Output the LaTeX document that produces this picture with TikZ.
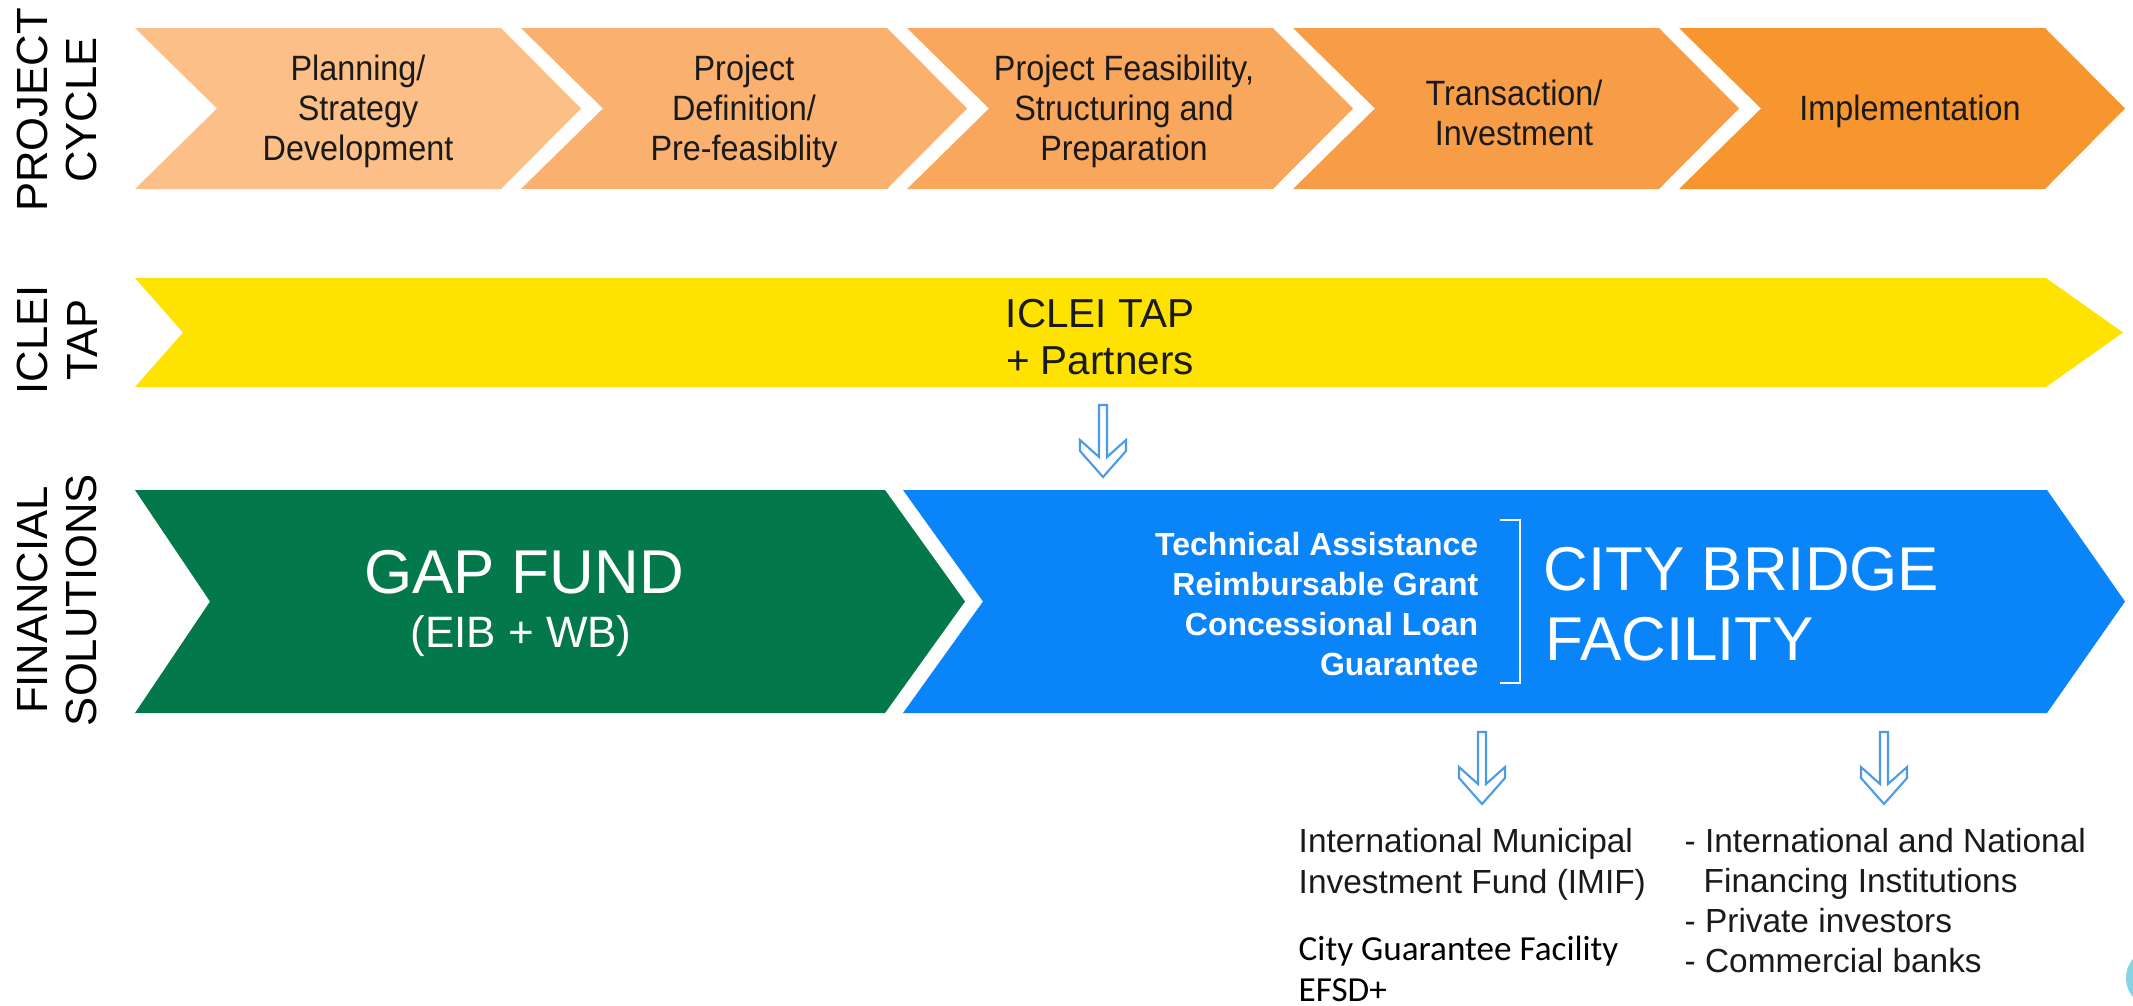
\documentclass[tikz,border=0pt]{standalone}
\usepackage{fontspec}
\setmainfont{Liberation Sans}
\newfontfamily\carlitofont{Carlito}
\newfontfamily\narrowsans[FakeStretch=0.92]{Liberation Sans}
\definecolor{o1}{HTML}{FBBF87}
\definecolor{o2}{HTML}{FAB170}
\definecolor{o3}{HTML}{F9A75D}
\definecolor{o4}{HTML}{F89D47}
\definecolor{o5}{HTML}{F7952F}
\definecolor{tapyellow}{HTML}{FEE300}
\definecolor{gapgreen}{HTML}{03784A}
\definecolor{cbblue}{HTML}{0A84F9}
\definecolor{arrowblue}{HTML}{4C9BE8}
\definecolor{txtdark}{HTML}{1A1A1A}
\definecolor{dotcyan}{HTML}{86D3E3}
\tikzset{
  lbl/.style={rotate=90, align=center, inner sep=0pt, text=black, font=\fontsize{12.4}{14.2}\selectfont},
  ctext/.style={align=center, inner sep=0pt, text=txtdark, font=\narrowsans\fontsize{10}{11.4}\selectfont},
  taptext/.style={align=center, inner sep=0pt, text=txtdark, font=\fontsize{11.5}{13.6}\selectfont},
  bigwhite/.style={inner sep=0pt, text=white, font=\fontsize{17.6}{20}\selectfont},
  midwhite/.style={inner sep=0pt, text=white, font=\fontsize{12.5}{14}\selectfont},
  listwhite/.style={inner sep=0pt, text=white, anchor=base east, font=\bfseries\fontsize{9.1}{11}\selectfont},
  btext/.style={inner sep=0pt, text=txtdark, anchor=base west, font=\fontsize{9.5}{11.4}\selectfont},
  ctext2/.style={inner sep=0pt, text=black, anchor=base west, font=\carlitofont\fontsize{10}{12}\selectfont},
  arrowline/.style={draw=arrowblue, line width=0.6pt, line join=miter},
  harrow/.pic={\draw[arrowline] (-4,0) -- (-4,52) -- (-23,35) -- (-23,46) -- (0,72) -- (23,46) -- (23,35) -- (4,52) -- (4,0) -- cycle;}
}
\begin{document}
\begin{tikzpicture}[x=0.01cm,y=-0.01cm]
\useasboundingbox (0,0) rectangle (2133,1005);
\clip (0,0) rectangle (2133,1005);
\fill[white] (0,0) rectangle (2133,1005);

% side labels
\node[lbl] (lpc) at (57,110) {PROJECT\\CYCLE};
\node[lbl] (ltap) at (57,340) {ICLEI\\TAP};
\node[lbl] (lfs) at (57,600) {FINANCIAL\\SOLUTIONS};

% project cycle chevrons
\foreach \i/\c in {0/o1,1/o2,2/o3,3/o4,4/o5}{
  \pgfmathsetmacro\xa{135+386*\i}
  \fill[\c] (\xa,28) -- ++(366,0) -- ++(80,80.5) -- ++(-80,80.5) -- ++(-366,0) -- ++(82,-80.5) -- cycle;
}
\node[ctext] (c1) at (358,111) {Planning/\\Strategy\\Development};
\node[ctext] (c2) at (744,111) {Project\\Definition/\\Pre-feasiblity};
\node[ctext] (c3) at (1124,111) {Project Feasibility,\\Structuring and\\Preparation};
\node[ctext] (c4) at (1514,113) {Transaction/\\Investment};
\node[ctext] (c5) at (1910,111) {Implementation};

% ICLEI TAP band
\fill[tapyellow] (135,278) -- (2046,278) -- (2123,332.5) -- (2046,387) -- (135,387) -- (183,332.5) -- cycle;
\node[taptext] (tap) at (1100,337) {ICLEI TAP\\+ Partners};

% financial solutions
\fill[gapgreen] (135,490) -- (885,490) -- (965,601.5) -- (885,713) -- (135,713) -- (210,601.5) -- cycle;
\fill[cbblue] (903,490) -- (2047,490) -- (2125,601.5) -- (2047,713) -- (903,713) -- (983,601.5) -- cycle;

\node[bigwhite, anchor=base] (gap) at (524,593) {GAP FUND};
\node[midwhite, anchor=base] (eib) at (521,647) {(EIB + WB)};

\node[listwhite] (ta) at (1479,555) {Technical Assistance};
\node[listwhite] (rg) at (1479,595) {Reimbursable Grant};
\node[listwhite] (cl) at (1479,635) {Concessional Loan};
\node[listwhite] (gu) at (1479,675) {Guarantee};
\draw[white, line width=0.6pt] (1500,520) -- (1520,520) -- (1520,683) -- (1500,683);

\node[bigwhite, anchor=base west] (cb1) at (1543,590) {CITY BRIDGE};
\node[bigwhite, anchor=base west] (cb2) at (1545,660) {FACILITY};

% arrows
\pic (a1) at (1103,405) {harrow};
\pic (a2) at (1482,732) {harrow};
\pic (a3) at (1884,732) {harrow};

% bottom texts
\node[btext] (m1) at (1298,852) {International Municipal};
\node[btext] (m2) at (1298,893) {Investment Fund (IMIF)};
\node[ctext2] (g1) at (1298,960) {City Guarantee Facility};
\node[ctext2] (g2) at (1298,1001) {EFSD+};

\node[btext] (r1) at (1684,852) {- International and National};
\node[btext] (r2) at (1703,892) {Financing Institutions};
\node[btext] (r3) at (1684,932) {- Private investors};
\node[btext] (r4) at (1684,972) {- Commercial banks};

% partial circle at right edge
\fill[dotcyan] (2156,978) circle (30);
\end{tikzpicture}
\end{document}
